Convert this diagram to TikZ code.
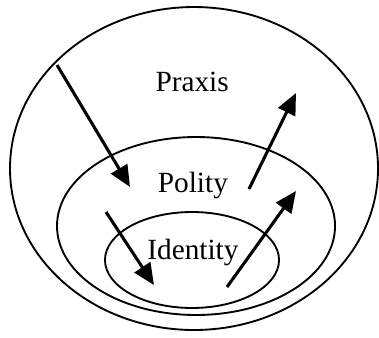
\documentclass[tikz,border=0pt]{standalone}
\usepackage{fontspec}
\setmainfont{Liberation Serif}
\usetikzlibrary{arrows.meta}

\begin{document}
\begin{tikzpicture}[>={Triangle[length=16pt,width=14pt]}]
    \tikzstyle{every node}=[font=\fontsize{22}{26}\selectfont];
    \tikzstyle{ring}=[line width=1.4pt];
    \tikzstyle{flow}=[->,line width=2.3pt];
    \useasboundingbox (0,0) rectangle (10,8.892);

    % the three spheres
    \draw[ring] (5.119,4.446) ellipse (4.855 and 4.261);
    \draw[ring] (5.172,2.929) ellipse (3.668 and 2.348);
    \draw[ring] (5.066,2.032) ellipse (2.296 and 1.266);

    \node (praxis) at (5.07,6.73) {Praxis};
    \node (polity) at (5.09,3.99) {Polity};
    \node (identity) at (5.09,2.24) {Identity};

    % ends of the arrows
    \coordinate (in1) at (1.504,7.177);
    \coordinate (in1t) at (3.430,3.958);
    \coordinate (in2) at (2.797,3.298);
    \coordinate (in2t) at (4.063,1.372);
    \coordinate (out1) at (5.989,1.319);
    \coordinate (out1t) at (7.810,3.852);
    \coordinate (out2) at (6.570,3.905);
    \coordinate (out2t) at (7.810,6.438);

    \draw[flow] (in1) -- (in1t);
    \draw[flow] (in2) -- (in2t);
    \draw[flow] (out1) -- (out1t);
    \draw[flow] (out2) -- (out2t);
\end{tikzpicture}
\end{document}
